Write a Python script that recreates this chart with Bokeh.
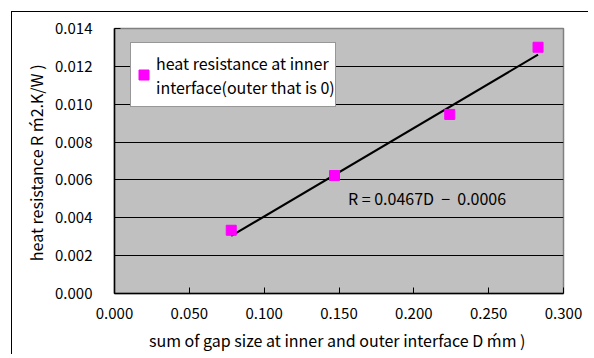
from bokeh.plotting import figure
from bokeh.models import (Range1d, NumeralTickFormatter, FixedTicker, Legend, LegendItem, Label)
from bokeh.embed import file_html
from bokeh.resources import INLINE

# data
gap_size = [0.078, 0.147, 0.224, 0.283]
heat_res = [0.00334, 0.00623, 0.00946, 0.01301]
slope = 0.0467
intercept = -0.0006
x_ticks = [0.0, 0.05, 0.10, 0.15, 0.20, 0.25, 0.30]
y_ticks = [0.0, 0.002, 0.004, 0.006, 0.008, 0.010, 0.012, 0.014]
series_label = "heat resistance at inner\ninterface(outer that is 0)"
eq_text = "R = 0.0467D \u00a0\u2212 \u00a00.0006"
x_title = "sum of gap size at inner and outer interface D  \u1e3fm )"
y_title = "heat resistance R  \u1e3f2.K/W )"

FONT = "Noto Sans CJK JP"

p = figure(frame_width=449, frame_height=265, min_border_left=102, min_border_right=25,
           min_border_top=16, min_border_bottom=60,
           output_backend="svg", toolbar_location=None,
           x_range=Range1d(0, 0.3), y_range=Range1d(0, 0.014))
p.margin = (11, 0, 0, 11)
p.styles = {"border-left": "1px solid black", "border-top": "1px solid black"}

p.background_fill_color = "#c0c0c0"
p.border_fill_color = "white"
p.outline_line_color = "#808080"
p.outline_line_width = 1.5

p.xgrid.visible = False
p.ygrid.ticker = FixedTicker(ticks=y_ticks)
p.ygrid.grid_line_color = "black"
p.ygrid.grid_line_width = 1

for ax in (p.xaxis[0], p.yaxis[0]):
    ax.formatter = NumeralTickFormatter(format="0.000")
    ax.axis_line_color = "black"
    ax.axis_line_width = 1.5
    ax.major_tick_in = 6
    ax.major_tick_out = 0
    ax.minor_tick_in = 0
    ax.minor_tick_out = 0
    ax.major_tick_line_color = "black"
    ax.major_label_text_font = FONT
    ax.major_label_text_font_size = "15px"
    ax.major_label_text_color = "black"
    ax.axis_label_text_font = FONT
    ax.axis_label_text_font_size = "16px"
    ax.axis_label_text_font_style = "normal"
    ax.axis_label_text_color = "black"

p.xaxis[0].ticker = FixedTicker(ticks=x_ticks)
p.yaxis[0].ticker = FixedTicker(ticks=y_ticks)
p.xaxis[0].major_label_standoff = 14
p.yaxis[0].major_label_standoff = 22
p.xaxis[0].axis_label = x_title
p.yaxis[0].axis_label = y_title
p.xaxis[0].axis_label_standoff = 6
p.yaxis[0].axis_label_standoff = 4

# trend line across the data span
x0, x1 = min(gap_size), max(gap_size)
p.line([x0, x1], [slope * x0 + intercept, slope * x1 + intercept], line_color="black", line_width=2)

pts = p.scatter(gap_size, heat_res, marker="square", size=10, fill_color="#ff00ff",
                line_color="#ff00ff")

legend = Legend(items=[LegendItem(label=series_label, renderers=[pts])],
                location=(16, 186), orientation="vertical",
                border_line_color="#303030", border_line_width=1.5,
                background_fill_color="white", background_fill_alpha=1,
                label_text_font=FONT, label_text_font_size="16px",
                label_text_color="black", glyph_width=25, glyph_height=25,
                label_height=63, padding=0, spacing=0, margin=0, label_standoff=0)
p.add_layout(legend, "center")

p.add_layout(Label(x=0.156, y=0.00507, text=eq_text, text_baseline="middle",
                   text_font=FONT, text_font_size="16px", text_color="black"))

open("out.html", "w").write(file_html(p, INLINE))
